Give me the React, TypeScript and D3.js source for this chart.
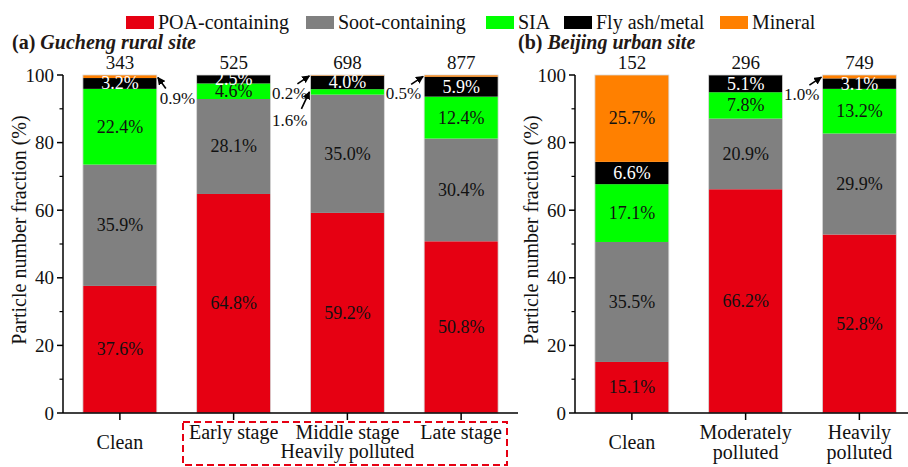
import React from "react";
import * as d3 from "d3";

const seriesNames = ["POA-containing", "Soot-containing", "SIA", "Fly ash/metal", "Mineral"];
const seriesColors = ["#e60012", "#808080", "#00ff00", "#000000", "#ff8000"];

const guchengCategories = ["Clean", "Early stage", "Middle stage", "Late stage"];
const guchengPOA = [37.6, 64.8, 59.2, 50.8];
const guchengSoot = [35.9, 28.1, 35.0, 30.4];
const guchengSIA = [22.4, 4.6, 1.6, 12.4];
const guchengFly = [3.2, 2.5, 4.0, 5.9];
const guchengMineral = [0.9, 0, 0.2, 0.5];
const guchengCounts = [343, 525, 698, 877];

const beijingCategories = ["Clean", "Moderately polluted", "Heavily polluted"];
const beijingPOA = [15.1, 66.2, 52.8];
const beijingSoot = [35.5, 20.9, 29.9];
const beijingSIA = [17.1, 7.8, 13.2];
const beijingFly = [6.6, 5.1, 3.1];
const beijingMineral = [25.7, 0, 1.0];
const beijingCounts = [152, 296, 749];

const yTicks = [0, 20, 40, 60, 80, 100];
const yMinorTicks = [10, 30, 50, 70, 90];

// annotations: [panel, categoryIndex, seriesIndex, text, side]
type Ann = { panel: number; cat: number; ser: number; side: "right" | "left"; dy: number };
const annotations: Ann[] = [
  { panel: 0, cat: 0, ser: 4, side: "right", dy: 0 },
  { panel: 0, cat: 2, ser: 4, side: "left", dy: 0 },
  { panel: 0, cat: 2, ser: 2, side: "left", dy: 0 },
  { panel: 0, cat: 3, ser: 4, side: "left", dy: 0 },
  { panel: 1, cat: 2, ser: 4, side: "left", dy: 0 },
];

const SERIF = "'Liberation Serif', 'Times New Roman', serif";
const Y0 = 413;
const Y100 = 75;
const STEP = 113.75;

function buildRows(cats: string[], arrs: number[][]) {
  return cats.map((c, i) => {
    const row: any = { cat: c };
    seriesNames.forEach((s, j) => (row[s] = arrs[j][i]));
    return row;
  });
}

const panels = [
  {
    x0: 63,
    cats: guchengCategories,
    rows: buildRows(guchengCategories, [guchengPOA, guchengSoot, guchengSIA, guchengFly, guchengMineral]),
    counts: guchengCounts,
    titleA: "(a) ",
    titleB: "Gucheng rural site",
    titleX: 12,
    ylabX: 26,
  },
  {
    x0: 575,
    cats: beijingCategories,
    rows: buildRows(beijingCategories, [beijingPOA, beijingSoot, beijingSIA, beijingFly, beijingMineral]),
    counts: beijingCounts,
    titleA: "(b) ",
    titleB: "Beijing urban site",
    titleX: 518,
    ylabX: 538,
  },
];

const y = d3.scaleLinear().domain([0, 100]).range([Y0, Y100]);
const stack = d3.stack<any>().keys(seriesNames);

function Panel({ p, pi }: { p: (typeof panels)[0]; pi: number }) {
  const x = d3
    .scaleBand<string>()
    .domain(p.cats)
    .range([p.x0, p.x0 + STEP * p.cats.length])
    .paddingInner(0.35)
    .paddingOuter(0.175);
  const stacked = stack(p.rows);
  const bw = x.bandwidth();
  const annSet = annotations.filter((a) => a.panel === pi);
  const isAnn = (ci: number, si: number) => annSet.some((a) => a.cat === ci && a.ser === si);
  const xEnd = p.x0 + STEP * p.cats.length;
  const midY = (Y0 + Y100) / 2;

  return (
    <g>
      {/* bars */}
      {stacked.map((layer, si) =>
        layer.map((d, ci) => {
          const v = d[1] - d[0];
          if (v <= 0) return null;
          return (
            <rect
              key={`r${si}-${ci}`}
              x={x(p.cats[ci])}
              y={y(d[1])}
              width={bw}
              height={y(d[0]) - y(d[1])}
              fill={seriesColors[si]}
            />
          );
        })
      )}
      {p.cats.map((c) => (
        <rect key={`o${c}`} x={x(c)} y={y(100)} width={bw} height={Y0 - y(100)} fill="none" stroke="#d8d8d8" strokeWidth={0.8} />
      ))}
      {/* segment labels */}
      {stacked.map((layer, si) =>
        layer.map((d, ci) => {
          const v = d[1] - d[0];
          if (v < 2 || isAnn(ci, si)) return null;
          return (
            <text
              key={`t${si}-${ci}`}
              x={(x(p.cats[ci]) as number) + bw / 2}
              y={(y(d[0]) + y(d[1])) / 2 + 6}
              textAnchor="middle"
              fontSize={18}
              fontFamily={SERIF}
              fill={si === 3 ? "#fff" : "#111"}
            >
              {v.toFixed(1)}%
            </text>
          );
        })
      )}
      {/* annotations */}
      {annSet.map((a, k) => {
        const d = stacked[a.ser][a.cat];
        const v = d[1] - d[0];
        const bx = x(p.cats[a.cat]) as number;
        const ty = (y(d[0]) + y(d[1])) / 2;
        let tipX: number, tipY: number, fromX: number, fromY: number, txtX: number, txtY: number, anchor: string;
        if (a.side === "right") {
          tipX = bx + bw + 1;
          tipY = ty + 1;
          fromX = tipX + 8;
          fromY = tipY + 11;
          txtX = bx + bw + 3;
          txtY = tipY + 26;
          anchor = "start";
        } else {
          const below = a.ser === 2;
          tipX = bx - 1;
          tipY = ty + (below ? 0 : 0.5);
          fromX = tipX - (below ? 8 : 12);
          fromY = tipY + (below ? 17 : 8);
          txtX = bx - 3;
          txtY = below ? tipY + 34 : tipY + 23;
          anchor = "end";
        }
        return (
          <g key={`a${k}`}>
            <line x1={fromX} y1={fromY} x2={tipX} y2={tipY} stroke="#000" strokeWidth={1.6} markerEnd="url(#arrow)" />
            <text x={txtX} y={txtY} textAnchor={anchor as any} fontSize={17} fontFamily={SERIF} fill="#111">
              {v.toFixed(1)}%
            </text>
          </g>
        );
      })}
      {/* counts */}
      {p.cats.map((c, i) => (
        <text key={`n${c}`} x={(x(c) as number) + bw / 2} y={69} textAnchor="middle" fontSize={19} fontFamily={SERIF} fill="#111">
          {p.counts[i]}
        </text>
      ))}
      {/* axes */}
      <line x1={p.x0} y1={Y0} x2={p.x0} y2={Y100} stroke="#000" strokeWidth={1.5} />
      <line x1={p.x0} y1={Y0} x2={xEnd} y2={Y0} stroke="#000" strokeWidth={1.5} />
      {yTicks.map((t) => (
        <g key={`yt${t}`}>
          <line x1={p.x0 - 6} x2={p.x0} y1={y(t)} y2={y(t)} stroke="#000" strokeWidth={1.5} />
          <text x={p.x0 - 9} y={y(t) + 6.5} textAnchor="end" fontSize={19} fontFamily={SERIF} fill="#111">
            {t}
          </text>
        </g>
      ))}
      {yMinorTicks.map((t) => (
        <line key={`ym${t}`} x1={p.x0 - 3.5} x2={p.x0} y1={y(t)} y2={y(t)} stroke="#000" strokeWidth={1.2} />
      ))}
      {p.cats.map((c) => (
        <line
          key={`xt${c}`}
          x1={(x(c) as number) + bw / 2}
          x2={(x(c) as number) + bw / 2}
          y1={Y0}
          y2={Y0 + 7}
          stroke="#000"
          strokeWidth={1.5}
        />
      ))}
      <text
        transform={`translate(${p.ylabX},${midY - 14}) rotate(-90)`}
        textAnchor="middle"
        fontSize={20}
        fontFamily={SERIF}
        fill="#111"
      >
        Particle number fraction (%)
      </text>
      <text x={p.titleX} y={49} fontSize={20} fontFamily={SERIF} fontWeight="bold" fill="#231815">
        {p.titleA}
        <tspan fontStyle="italic">{p.titleB}</tspan>
      </text>
    </g>
  );
}

export default function App() {
  const p0 = panels[0];
  const p1 = panels[1];
  const xa = d3.scaleBand<string>().domain(p0.cats).range([p0.x0, p0.x0 + STEP * 4]).paddingInner(0.35).paddingOuter(0.175);
  const xb = d3.scaleBand<string>().domain(p1.cats).range([p1.x0, p1.x0 + STEP * 3]).paddingInner(0.35).paddingOuter(0.175);
  const ca = (c: string) => (xa(c) as number) + xa.bandwidth() / 2;
  const cb = (c: string) => (xb(c) as number) + xb.bandwidth() / 2;
  const legendX = [126, 306, 486, 564, 720];
  const lt = (s: string, x: number, yy: number, key: string) => (
    <text key={key} x={x} y={yy} textAnchor="middle" fontSize={20} fontFamily={SERIF} fill="#111">
      {s}
    </text>
  );
  return (
    <svg width={908} height={467} style={{ position: "absolute", left: 0, top: 0, background: "#fff" }}>
      <defs>
        <marker id="arrow" viewBox="0 0 10 10" refX="9" refY="5" markerWidth="5" markerHeight="5" orient="auto">
          <path d="M0,0 L10,5 L0,10 z" fill="#000" />
        </marker>
      </defs>
      <rect x={0} y={0} width={908} height={467} fill="#fff" />
      {/* legend */}
      {seriesNames.map((s, i) => (
        <g key={`lg${s}`}>
          <rect x={legendX[i]} y={16} width={28} height={13} fill={seriesColors[i]} />
          <text x={legendX[i] + 32} y={29} fontSize={20} fontFamily={SERIF} fill="#111">
            {s}
          </text>
        </g>
      ))}
      {panels.map((p, i) => (
        <Panel key={i} p={p} pi={i} />
      ))}
      {/* x labels */}
      {lt("Clean", ca("Clean"), 449, "xa0")}
      {lt("Early stage", ca("Early stage"), 439, "xa1")}
      {lt("Middle stage", ca("Middle stage"), 439, "xa2")}
      {lt("Late stage", ca("Late stage"), 439, "xa3")}
      {lt("Heavily polluted", ca("Middle stage"), 458, "xa4")}
      <rect x={183} y={422} width={324} height={43} fill="none" stroke="#e60012" strokeWidth={2} strokeDasharray="7,4" />
      {lt("Clean", cb("Clean"), 449, "xb0")}
      {lt("Moderately", cb("Moderately polluted"), 439, "xb1")}
      {lt("polluted", cb("Moderately polluted"), 459, "xb2")}
      {lt("Heavily", cb("Heavily polluted"), 439, "xb3")}
      {lt("polluted", cb("Heavily polluted"), 459, "xb4")}
    </svg>
  );
}
